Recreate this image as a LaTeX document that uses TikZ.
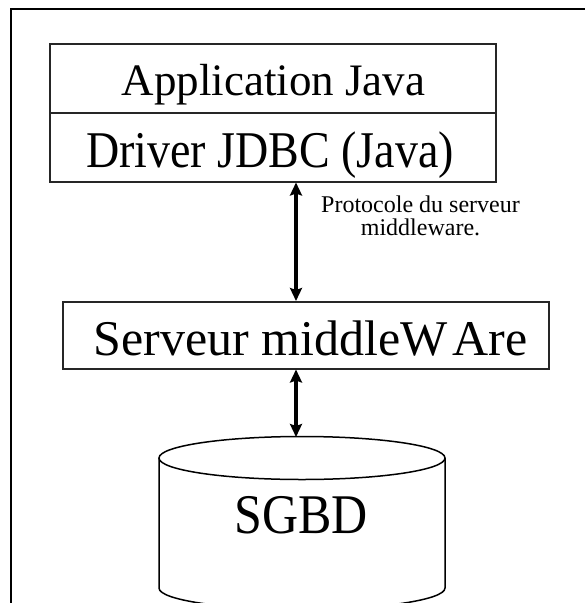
\documentclass[tikz,border=0pt]{standalone}
\usepackage{fontspec}
\setmainfont{Liberation Serif}
\usetikzlibrary{arrows.meta}
\begin{document}
\begin{tikzpicture}[x=1pt,y=-1pt,
  box/.style={draw=black!85,line width=1.5pt,fill=white,inner sep=0pt,anchor=north west},
  lbl/.style={inner sep=0pt,anchor=base,text=black},
  note/.style={inner sep=0pt,anchor=base,align=center,font=\fontsize{24}{23}\selectfont},
  arr/.style={line width=3.4pt,{Stealth[length=13pt,width=12pt,inset=2pt]}-{Stealth[length=13pt,width=12pt,inset=2pt]}},
  frame/.style={line width=1.8pt,draw=black}]
\useasboundingbox (0,0) rectangle (585,603);
\fill[white] (0,0) rectangle (585,603);

% outer frame (left and top edges)
\draw[frame] (11,603) -- (11,9) -- (585,9);

% client stack
\node[box,minimum width=446pt,minimum height=69pt] (app) at (49,43) {};
\node[box,minimum width=446pt,minimum height=69pt] (drv) at (49,112) {};
\node[lbl,font=\fontsize{45}{50}\selectfont] (appt) at (273.5,95) {Application Java};
\node[lbl,font=\fontsize{46}{50}\selectfont] (drvt) at (270,167) {\scalebox{1}[1.12]{Driver JDBC (Java)}};

% middleware server
\node[box,minimum width=486pt,minimum height=67pt] (mid) at (62,301) {};
\node[lbl,font=\fontsize{50}{55}\selectfont] (midt) at (310.5,355) {Serveur middleW\kern5pt Are};

% database cylinder
\coordinate (dbtop) at (302,437);
\begin{scope}
  \clip (0,0) rectangle (585,603);
  \draw[line width=1.5pt,fill=white] (159,458) -- (159,588)
    arc[start angle=180,end angle=360,x radius=143,y radius=-21.5]
    -- (445,458);
  \draw[line width=1.5pt,fill=white] (302,458) ellipse[x radius=143,y radius=21.5];
\end{scope}
\node[lbl,font=\fontsize{50}{55}\selectfont] (dbt) at (301,533) {\scalebox{1}[1.12]{SGBD}};

% connectors
\coordinate (ax) at (296,0);
\draw[arr] (ax |- drv.south) -- (ax |- mid.north);
\draw[arr] (ax |- mid.south) -- (ax |- dbtop);
\node[note] (proto) at (420.5,235) {Protocole du serveur\\middleware.};
\end{tikzpicture}
\end{document}
